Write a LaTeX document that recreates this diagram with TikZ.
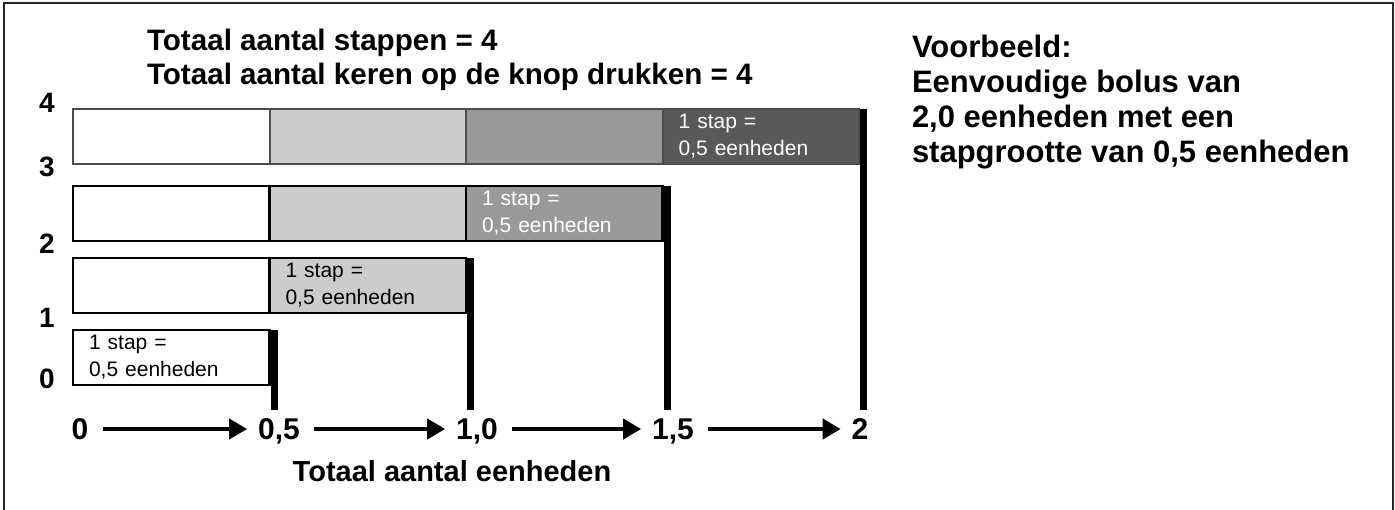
\documentclass[tikz,border=0pt]{standalone}
\usepackage{fontspec}
\setmainfont{Liberation Sans}
\usepackage{tikz}
\usetikzlibrary{positioning,arrows.meta}

\definecolor{stepLight}{HTML}{CCCCCC}
\definecolor{stepMid}{HTML}{999999}
\definecolor{stepDark}{HTML}{595959}

\begin{document}
\begin{tikzpicture}[x=0.75pt,y=-0.75pt,>={Triangle[length=13.5pt,width=15pt]},line width=1.5pt]
\tikzstyle{cell} = [draw, line width=2pt, shape=rectangle, minimum width=147.4pt, minimum height=41.25pt, inner sep=0pt, outer sep=0pt, text width=123.4pt, align=left, font=\fontsize{15.75}{20.25}\selectfont]
\tikzstyle{grey0} = [cell, fill=white]
\tikzstyle{grey1} = [cell, fill=stepLight]
\tikzstyle{grey2} = [cell, fill=stepMid, text=white]
\tikzstyle{grey3} = [cell, fill=stepDark, text=white]
\tikzstyle{stopline} = [line width=5.25pt]
\tikzstyle{stepnum} = [font=\bfseries\fontsize{21}{21}\selectfont, inner sep=0pt]
\tikzstyle{axislabel} = [font=\bfseries\fontsize{22.5}{22.5}\selectfont, inner sep=0pt, text height=16.1pt, text depth=0pt]
\tikzstyle{axisarrow} = [->, line width=3pt, shorten <=10pt, shorten >=7.5pt]

\useasboundingbox (0,0) rectangle (1395,510);

% Frame
\draw[black!85] (4,512) -- (4,3) -- (1393,3) -- (1393,512);

% Headings
\node [anchor=north west, align=left, inner sep=0pt, font=\bfseries\fontsize{22.2}{25.5}\selectfont] at (146,28) (title) {Totaal aantal stappen = 4\\Totaal aantal keren op de knop drukken = 4};
\node [anchor=north west, align=left, inner sep=0pt, font=\bfseries\fontsize{23.25}{26.25}\selectfont] at (911,34) (example) {Voorbeeld:\\Eenvoudige bolus van\\2,0 eenheden met een\\stapgrootte van 0,5 eenheden};

% Step numbers
\node [stepnum] at (47,102.5) (n4) {4};
\node [stepnum] at (47,167) (n3) {3};
\node [stepnum] at (47,244) (n2) {2};
\node [stepnum] at (47,318) (n1) {1};
\node [stepnum] at (47,379) (n0) {0};

% Bar 4
\node [grey0, draw=black!70, line width=1.5pt, anchor=north west] at (73,108.5) (r4c1) {};
\node [grey1, draw=black!70, line width=1.5pt, right of=r4c1, node distance=147.4pt] (r4c2) {};
\node [grey2, draw=black!70, line width=1.5pt, right of=r4c2, node distance=147.4pt] (r4c3) {};
\node [grey3, draw=black!70, line width=1.5pt, right of=r4c3, node distance=147.4pt] (r4c4) {1 stap =\\0,5 eenheden};

% Bar 3
\node [grey0, anchor=north west] at (73,186) (r3c1) {};
\node [grey1, right of=r3c1, node distance=147.4pt] (r3c2) {};
\node [grey2, right of=r3c2, node distance=147.4pt] (r3c3) {1 stap =\\0,5 eenheden};

% Bar 2
\node [grey0, anchor=north west] at (73,258) (r2c1) {};
\node [grey1, right of=r2c1, node distance=147.4pt] (r2c2) {1 stap =\\0,5 eenheden};

% Bar 1
\node [grey0, anchor=north west] at (73,330) (r1c1) {1 stap =\\0,5 eenheden};

% Stops
\coordinate (s1) at (274,410);
\coordinate (s2) at (470.5,410);
\coordinate (s3) at (667,410);
\coordinate (s4) at (863.5,410);
\draw[stopline] (r1c1.north east -| s1) -- (s1);
\draw[stopline] (r2c2.north east -| s2) -- (s2);
\draw[stopline] (r3c3.north east -| s3) -- (s3);
\draw[stopline] (r4c4.north east -| s4) -- (s4);

% Axis
\node [axislabel] at (80,429) (a0) {0};
\node [axislabel] at (279,429) (a1) {0,5};
\node [axislabel] at (477,429) (a2) {1,0};
\node [axislabel] at (673,429) (a3) {1,5};
\node [axislabel] at (860,429) (a4) {2};
\draw[axisarrow] (a0) -- (a1);
\draw[axisarrow] (a1) -- (a2);
\draw[axisarrow] (a2) -- (a3);
\draw[axisarrow] (a3) -- (a4);
\node [font=\bfseries\fontsize{21.75}{21.75}\selectfont, inner sep=0pt] at (452,471) (units) {Totaal aantal eenheden};

\end{tikzpicture}
\end{document}
